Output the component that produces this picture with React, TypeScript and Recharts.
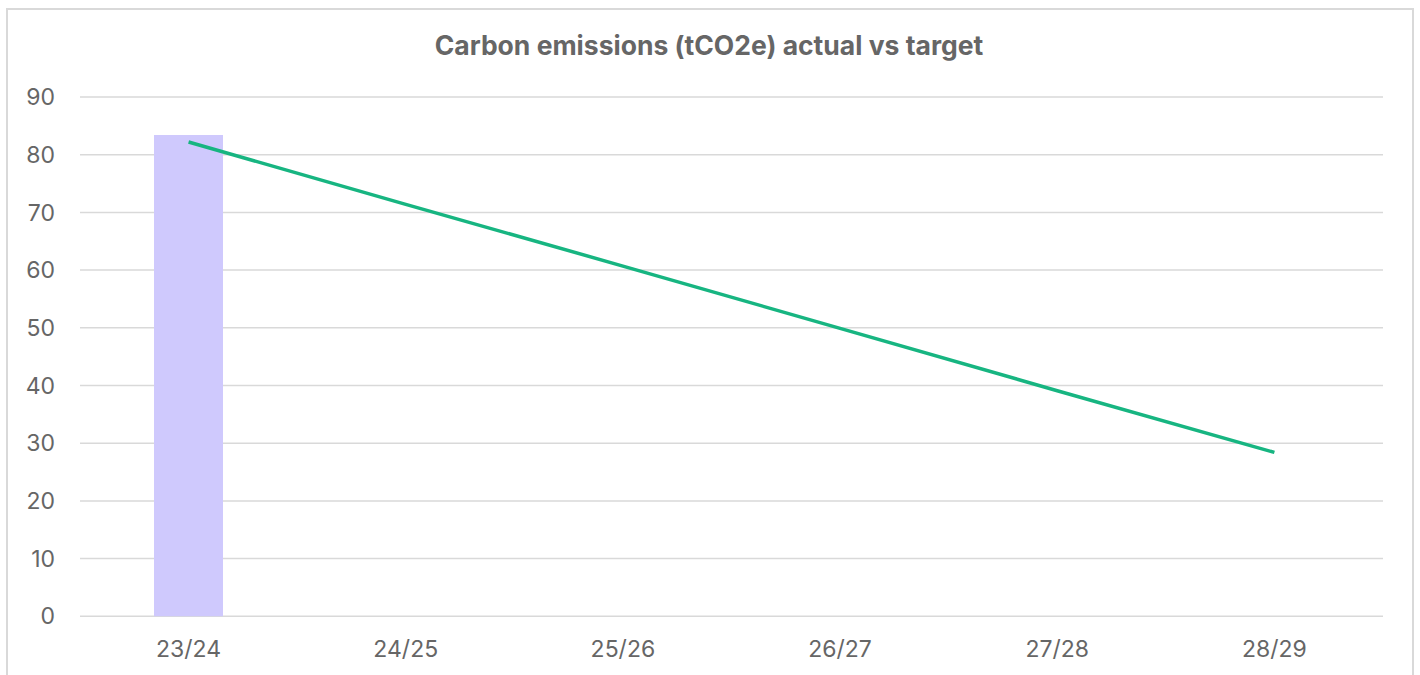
import React from "react";
import { Bar, CartesianGrid, ComposedChart, Line, XAxis, YAxis } from "recharts";

const years = ["23/24", "24/25", "25/26", "26/27", "27/28", "28/29"];
const actual = [83.4, null, null, null, null, null];
const target = [82.2, 71.4, 60.7, 49.9, 39.1, 28.4];
const yTicks = [0, 10, 20, 30, 40, 50, 60, 70, 80, 90];

const data = years.map((year, i) => ({ year, actual: actual[i], target: target[i] }));

const font = "Inter, 'Noto Sans', sans-serif";

export default function App() {
  return (
    <div style={{ position: "absolute", left: 0, top: 0, width: 1420, height: 675, background: "#fff", overflow: "hidden", fontFamily: font }}>
      <div
        style={{
          position: "absolute",
          left: 6,
          top: 8,
          width: 1404,
          height: 700,
          border: "2px solid #d9d9d9",
        }}
      />
      <div
        style={{
          position: "absolute",
          left: 0,
          width: 1418,
          top: 29,
          textAlign: "center",
          fontSize: 26.5,
          fontWeight: 700,
          color: "#666",
          lineHeight: "32px",
        }}
      >
        Carbon emissions (tCO2e) actual vs target
      </div>
      <div style={{ position: "absolute", left: 0, top: 0 }}>
        <ComposedChart width={1420} height={675} data={data} margin={{ top: 97, right: 37, bottom: 0, left: 0 }}>
          <CartesianGrid vertical={false} stroke="#d9d9d9" strokeWidth={1.5} />
          <XAxis
            dataKey="year"
            axisLine={false}
            tickLine={false}
            height={58.7}
            tickMargin={18}
            tick={{ fill: "#666", fontSize: 23, fontFamily: font }}
          />
          <YAxis
            domain={[0, 90]}
            ticks={yTicks}
            width={80}
            axisLine={false}
            tickLine={false}
            tickSize={0}
            tickMargin={25}
            tick={{ fill: "#666", fontSize: 23, fontFamily: font }}
          />
          <Bar dataKey="actual" fill="#cfc9fd" barSize={69} isAnimationActive={false} />
          <Line
            type="linear"
            dataKey="target"
            stroke="#17b581"
            strokeWidth={3.5}
            dot={false}
            activeDot={false}
            isAnimationActive={false}
          />
        </ComposedChart>
      </div>
    </div>
  );
}
